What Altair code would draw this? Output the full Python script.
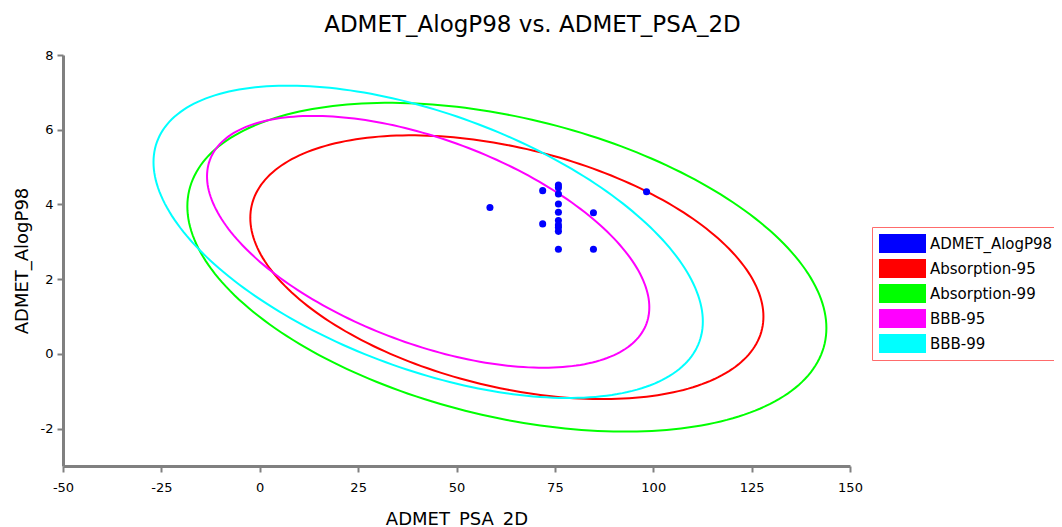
import numpy as np
import pandas as pd
import altair as alt

# ---- data ----
psa_2d = [58.5, 71.9, 75.9, 75.9, 75.9, 75.9, 75.9, 84.8, 71.9, 75.9, 75.9, 75.9, 75.9, 75.9, 84.8, 98.3]
alogp98 = [3.92, 4.37, 4.52, 4.45, 4.28, 4.01, 3.79, 3.78, 3.48, 3.57, 3.45, 3.38, 3.28, 2.80, 2.80, 4.34]

series_names = ["ADMET_AlogP98", "Absorption-95", "Absorption-99", "BBB-95", "BBB-99"]
series_colors = ["#0000ff", "#ff0000", "#00ff00", "#ff00ff", "#00ffff"]

# confidence ellipses: centre, half-width, half-height, correlation
ell_names = ["Absorption-95", "Absorption-99", "BBB-95", "BBB-99"]
ell_cx = [62.8, 62.8, 42.8, 42.8]
ell_cy = [2.32, 2.32, 3.0, 3.0]
ell_rx = [65.2, 81.2, 56.2, 69.8]
ell_ry = [3.53, 4.40, 3.37, 4.18]
ell_rho = [-0.374, -0.37, -0.52, -0.51]

x_ticks = [-50, -25, 0, 25, 50, 75, 100, 125, 150]
y_ticks = [-2, 0, 2, 4, 6, 8]

# ---- tables ----
pts = pd.DataFrame({"x": psa_2d, "y": alogp98, "series": ["ADMET_AlogP98"] * len(psa_2d)})

rows = []
t = np.linspace(0, 2 * np.pi, 241)
for n, cx, cy, rx, ry, r in zip(ell_names, ell_cx, ell_cy, ell_rx, ell_ry, ell_rho):
    xs = cx + rx * np.cos(t)
    ys = cy + ry * (r * np.cos(t) + np.sqrt(1 - r * r) * np.sin(t))
    for i, (a, b) in enumerate(zip(xs, ys)):
        rows.append({"series": n, "i": i, "x": a, "y": b})
ell = pd.DataFrame(rows)

FONT = "DejaVu Sans"
xsc = alt.Scale(domain=[-50, 150], nice=False, zero=False)
ysc = alt.Scale(domain=[-3, 8], nice=False, zero=False)
xax = alt.Axis(values=x_ticks, title="ADMET_PSA_2D", grid=False, labelExpr="'' + datum.value",
               labelFlush=False)
yax = alt.Axis(values=y_ticks, title="ADMET_AlogP98", grid=False, labelExpr="'' + datum.value",
               labelFlush=False)

X = alt.X("x:Q", scale=xsc, axis=xax)
Y = alt.Y("y:Q", scale=ysc, axis=yax)

color_scale = alt.Scale(domain=series_names, range=series_colors)
legend = alt.Legend(
    title=None, orient="none", legendX=809, legendY=172,
    symbolType="M-1,-0.4H1V0.4H-1Z", symbolSize=2209, clipHeight=19,
    rowPadding=6, symbolStrokeWidth=0, symbolOpacity=1,
    labelFont=FONT, labelFontSize=15, labelColor="#000000", labelOffset=4,
    strokeColor="#ff6b6b", fillColor="#ffffff", padding=7,
)

lines = alt.Chart(ell).mark_line(strokeWidth=2, clip=True).encode(
    x=X, y=Y,
    color=alt.Color("series:N", scale=color_scale, legend=legend),
    order="i:Q",
)

points = alt.Chart(pts).mark_circle(size=50, opacity=1).encode(
    x=X, y=Y,
    color=alt.Color("series:N", scale=color_scale, legend=legend),
)

chart = alt.layer(lines, points).properties(
    width=787, height=411,
    padding={"left": 55, "top": 47, "right": 204, "bottom": 60},
    autosize=alt.AutoSizeParams(type="none"),
    title=alt.TitleParams(
        "ADMET_AlogP98 vs. ADMET_PSA_2D", font=FONT, fontSize=23, fontWeight="normal",
        color="#000000", anchor="middle", dx=76, offset=12,
    ),
).configure_view(stroke=None).configure_axis(
    domainColor="#808080", domainWidth=3, tickColor="#808080", tickWidth=2, tickSize=6,
    labelFont=FONT, labelFontSize=13, labelColor="#000000",
    titleFont=FONT, titleFontSize=18, titleFontWeight="normal", titleColor="#000000",
).configure_axisX(labelPadding=9, titlePadding=16).configure_axisY(labelPadding=4, titlePadding=9)

chart.save("out.html", embed_options={"renderer": "svg", "actions": False})
